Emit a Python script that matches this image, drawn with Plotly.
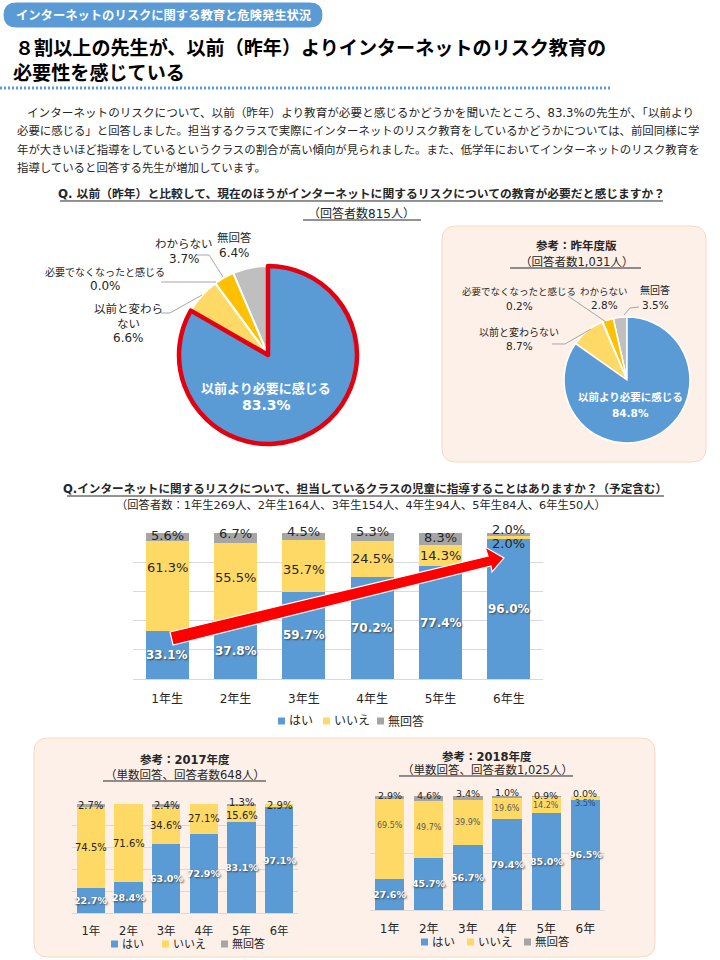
# Recreates the Internet Risk Education Survey Sheet

import plotly.graph_objects as go

FONT = "DejaVu Sans, Noto Sans CJK JP"
PAGE_W = 720
PAGE_H = 960

# Text of the Sheet
tagText = "インターネットのリスクに関する教育と危険発生状況"
headLines = ["８割以上の先生が、以前（昨年）よりインターネットのリスク教育の", "必要性を感じている"]
bodyLines = ["インターネットのリスクについて、以前（昨年）より教育が必要と感じるかどうかを聞いたところ、83.3%の先生が、「以前より",
             "必要に感じる」と回答しました。担当するクラスで実際にインターネットのリスク教育をしているかどうかについては、前回同様に学",
             "年が大きいほど指導をしているというクラスの割合が高い傾向が見られました。また、低学年においてインターネットのリスク教育を",
             "指導していると回答する先生が増加しています。"]

# Pie Datas (listed backwards, so the first slice of the picture is drawn last)
pieLabels = ["無回答", "わからない", "必要でなくなったと感じる", "以前と変わらない", "以前より必要に感じる"]
pieNow = [6.4, 3.7, 0.0, 6.6, 83.3]
pieLast = [3.5, 2.8, 0.2, 8.7, 84.8]
pieColors = ["#BFBFBF", "#FFC000", "#E7E6E6", "#FFD966", "#5B9BD5"]

# Bar Datas
seriesNames = ["はい", "いいえ", "無回答"]
seriesColors = ["#5B9BD5", "#FFD966", "#A5A5A5"]
gradeLong = ["1年生", "2年生", "3年生", "4年生", "5年生", "6年生"]
gradeShort = ["1年", "2年", "3年", "4年", "5年", "6年"]
yesNow = [33.1, 37.8, 59.7, 70.2, 77.4, 96.0]
noNow = [61.3, 55.5, 35.7, 24.5, 14.3, 2.0]
naNow = [5.6, 6.7, 4.5, 5.3, 8.3, 2.0]
yes2017 = [22.7, 28.4, 63.0, 72.9, 83.1, 97.1]
no2017 = [74.5, 71.6, 34.6, 27.1, 15.6, 2.9]
na2017 = [2.7, None, 2.4, None, 1.3, None]
yes2018 = [27.6, 45.7, 56.7, 79.4, 85.0, 96.5]
no2018 = [69.5, 49.7, 39.9, 19.6, 14.2, 3.5]
na2018 = [2.9, 4.6, 3.4, 1.0, 0.9, 0.0]


# Main Function
def main():
    fig = go.Figure()
    fig.update_layout(width=PAGE_W, height=PAGE_H, margin=dict(l=0, r=0, t=0, b=0), paper_bgcolor="white",
                      plot_bgcolor="rgba(0,0,0,0)", barmode="stack", showlegend=False, font=dict(family=FONT, color="#262626"))

    # Creates Heading and Paragraph
    addPanel(fig, 4, 3, 322, 27, 12, "#5B9BD5", "#5B9BD5")
    addText(fig, tagText, 163, 15, 12.3, "white", True)
    addText(fig, headLines[0], 13, 48, 19.1, "black", True, "left")
    addText(fig, headLines[1], 11, 73, 19.1, "black", True, "left")
    addLine(fig, [(0, 88), (612, 88)], "#5B9BD5", 3, "2px,2px")
    addText(fig, bodyLines[0], 25, 113, 11.6, "#262626", False, "left")
    addText(fig, bodyLines[1], 15, 131, 11.4, "#262626", False, "left")
    addText(fig, bodyLines[2], 15, 150, 11.4, "#262626", False, "left")
    addText(fig, bodyLines[3], 15, 168, 11.4, "#262626", False, "left")

    # Creates Pie of this year
    addText(fig, "Q. 以前（昨年）と比較して、現在のほうがインターネットに関するリスクについての教育が必要だと感じますか？", 361, 194, 11.8, "#262626", True)
    addLine(fig, [(60, 201), (663, 201)], "#262626", 1)
    addText(fig, "（回答者数815人）", 361, 213, 12, "#262626")
    addLine(fig, [(303, 220), (421, 220)], "#262626", 1)
    addPie(fig, pieNow, 268, 355, 89, ["white", "white", "white", "white", "#E3000F"], [2, 2, 2, 2, 4.5])
    addText(fig, "以前より必要に感じる", 266, 388, 13, "white", True)
    addText(fig, "83.3%", 266, 405, 14, "white", True)
    addText(fig, "無回答", 234, 238, 11.5)
    addText(fig, "6.4%", 234, 253, 12)
    addText(fig, "わからない", 184, 244, 11.5)
    addText(fig, "3.7%", 184, 259, 12)
    addText(fig, "必要でなくなったと感じる", 105, 272, 10)
    addText(fig, "0.0%", 105, 286, 12)
    addText(fig, "以前と変わら", 128, 309, 11.5)
    addText(fig, "ない", 128, 324, 11.5)
    addText(fig, "6.6%", 128, 338, 12)
    addLine(fig, [(196, 255), (209, 255), (223, 277)], "#A6A6A6", 1)
    addLine(fig, [(161, 282), (216, 282)], "#A6A6A6", 1)
    addLine(fig, [(161, 313), (170, 313), (202, 295)], "#A6A6A6", 1)

    # Creates Pie of last year
    addPanel(fig, 442, 226, 706, 462, 14, "#FDF0E8", "#F8D9C0")
    addText(fig, "参考：昨年度版", 576, 246, 11.5, "#262626", True)
    addText(fig, "（回答者数1,031人）", 576, 262, 11.5)
    addLine(fig, [(510, 268), (641, 268)], "#262626", 1)
    addPie(fig, pieLast, 627, 380, 63, ["white"] * 5, [1.5] * 5)
    addText(fig, "以前より必要に感じる", 630, 397, 10.5, "white", True)
    addText(fig, "84.8%", 630, 413, 10.5, "white", True)
    addText(fig, "必要でなくなったと感じる", 519, 291, 9.5)
    addText(fig, "0.2%", 519, 306, 10.5)
    addText(fig, "わからない", 604, 291, 9.5)
    addText(fig, "2.8%", 604, 305, 10.5)
    addText(fig, "無回答", 655, 290, 10)
    addText(fig, "3.5%", 655, 305, 10.5)
    addText(fig, "以前と変わらない", 519, 332, 10)
    addText(fig, "8.7%", 519, 346, 10.5)
    addLine(fig, [(568, 296), (606, 322)], "#A6A6A6", 1)
    addLine(fig, [(624, 315), (630, 308), (639, 307)], "#A6A6A6", 1)
    addLine(fig, [(552, 344), (565, 344), (591, 329)], "#A6A6A6", 1)

    # Creates Bar Chart of this year
    addText(fig, "Q.インターネットに関するリスクについて、担当しているクラスの児童に指導することはありますか？（予定含む）", 365, 489, 11.6, "#262626", True)
    addLine(fig, [(67, 496), (664, 496)], "#262626", 1)
    addText(fig, "（回答者数：1年生269人、2年生164人、3年生154人、4年生94人、5年生84人、6年生50人）", 361, 505, 11.3)
    shiftNow = {(1, 0): 18, (1, 1): 6, (1, 2): -4, (1, 5): -6, (2, 0): 2, (2, 1): 4, (2, 2): 5, (2, 3): 5, (2, 4): 2, (2, 5): 5}
    addBars(fig, "", gradeLong, [yesNow, noNow, naNow], (133, 543, 533, 679), 20, 0.63, shiftNow,
            dict(sizes=(12, 13, 13), standoff=9, tick=12))
    addKey(fig, [278, 323, 377], 721, 12)

    # Creates Red Arrow
    fig.add_shape(type="path", xref="paper", yref="paper", layer="above", fillcolor="#FF0000", line=dict(color="white", width=1.2),
                  path=toPath([(170, 632), (488, 556), (485, 547), (504, 558), (492, 572), (491, 566), (173, 645)]))

    # Creates Bar Chart of 2017
    addPanel(fig, 34, 738, 655, 957, 14, "#FDF0E8", "#F8D9C0")
    addText(fig, "参考：2017年度", 185, 760, 11.5, "#262626", True)
    addText(fig, "（単数回答、回答者数648人）", 185, 775, 11.5)
    addLine(fig, [(103, 781), (266, 781)], "#262626", 1)
    shift2017 = {(2, 4): 2, (1, 4): -2}
    addBars(fig, "2", gradeShort, [yes2017, no2017, na2017], (72, 298, 804, 913), 20, 0.75, shift2017,
            dict(sizes=(9.5, 10, 10), standoff=7, tick=11.5))
    addKey(fig, [111, 162, 221], 944, 11)

    # Creates Bar Chart of 2018
    addText(fig, "参考：2018年度", 487, 757, 11.5, "#262626", True)
    addText(fig, "（単数回答、回答者数1,025人）", 487, 770, 11.5)
    addLine(fig, [(399, 776), (573, 776)], "#262626", 1)
    shift2018 = {(1, 0): 13, (1, 1): 2, (2, 0): 2, (2, 1): 3, (2, 2): 4, (2, 3): 4, (2, 4): 1, (2, 5): 3, (1, 5): -5}
    addBars(fig, "3", gradeShort, [yes2018, no2018, na2018], (370, 605, 796, 910), 50, 0.75, shift2018,
            dict(sizes=(9.5, 8, 9.5), standoff=8, tick=12))
    addKey(fig, [421, 467, 524], 942, 11.5)

    fig.write_html("out.html", config=dict(displayModeBar=False), post_script="document.body.style.margin='0';")


# Paper Position of a Page Pixel
def toPaper(x, y):
    return x / PAGE_W, 1 - y / PAGE_H


def toPath(points):
    coords = [toPaper(x, y) for x, y in points]
    return "M" + " L".join(f"{x:.5f},{y:.5f}" for x, y in coords) + " Z"


def addText(fig, text, x, y, size, color="#262626", bold=False, anchor="center"):
    px, py = toPaper(x, y)
    fig.add_annotation(text=f"<b>{text}</b>" if bold else text, x=px, y=py, xref="paper", yref="paper", showarrow=False,
                       xanchor=anchor, yanchor="middle", font=dict(size=size, color=color, family=FONT))


def addLine(fig, points, color, width, dash="solid"):
    coords = [toPaper(x, y) for x, y in points]
    path = "M" + " L".join(f"{x:.5f},{y:.5f}" for x, y in coords)
    fig.add_shape(type="path", path=path, xref="paper", yref="paper", line=dict(color=color, width=width, dash=dash))


# Rounded Box behind a Part of the Sheet
def addPanel(fig, x0, y0, x1, y1, radius, fill, edge):
    rx = radius / PAGE_W
    ry = radius / PAGE_H
    left, top = toPaper(x0, y0)
    right, bottom = toPaper(x1, y1)
    path = (f"M{left + rx:.5f},{top:.5f} L{right - rx:.5f},{top:.5f} Q{right:.5f},{top:.5f} {right:.5f},{top - ry:.5f} "
            f"L{right:.5f},{bottom + ry:.5f} Q{right:.5f},{bottom:.5f} {right - rx:.5f},{bottom:.5f} "
            f"L{left + rx:.5f},{bottom:.5f} Q{left:.5f},{bottom:.5f} {left:.5f},{bottom + ry:.5f} "
            f"L{left:.5f},{top - ry:.5f} Q{left:.5f},{top:.5f} {left + rx:.5f},{top:.5f} Z")
    fig.add_shape(type="path", path=path, xref="paper", yref="paper", layer="below", fillcolor=fill, line=dict(color=edge, width=1))


def addPie(fig, values, cx, cy, radius, lineColors, lineWidths):
    left, top = toPaper(cx - radius, cy - radius)
    right, bottom = toPaper(cx + radius, cy + radius)
    # Counterclockwise pies start one slice past the rotation, so it is taken back
    fig.add_trace(go.Pie(labels=pieLabels, values=values, sort=False, direction="counterclockwise", rotation=-values[0] * 3.6,
                         textinfo="none", hoverinfo="label+percent", showlegend=False, domain=dict(x=[left, right], y=[bottom, top]),
                         marker=dict(colors=pieColors, line=dict(color=lineColors, width=lineWidths))))


# Small Squares and Names under a Bar Chart
def addKey(fig, xs, y, size):
    for x, name, color in zip(xs, seriesNames, seriesColors):
        x0, y0 = toPaper(x, y - 3.5)
        x1, y1 = toPaper(x + 7, y + 3.5)
        fig.add_shape(type="rect", x0=x0, y0=y0, x1=x1, y1=y1, xref="paper", yref="paper", fillcolor=color, line=dict(width=0))
        addText(fig, name, x + 9, y, size, "#262626", False, "left")


# Stacked Bars with their Labels
def addBars(fig, axisId, cats, series, box, gridStep, barWidth, shifts, style):
    xName = "xaxis" + axisId
    yName = "yaxis" + axisId
    left, top = toPaper(box[0], box[2])
    right, bottom = toPaper(box[1], box[3])
    for s, values in enumerate(series):
        fig.add_trace(go.Bar(x=cats, y=values, name=seriesNames[s], width=barWidth, marker=dict(color=seriesColors[s], line=dict(width=0)),
                             xaxis="x" + axisId, yaxis="y" + axisId, hoverinfo="name+y"))
    fig.update_layout({
        xName: dict(domain=[left, right], anchor="y" + axisId, showgrid=False, showline=True, linecolor="#D9D9D9", linewidth=1, ticks="",
                    ticklabelstandoff=style["standoff"], tickfont=dict(size=style["tick"], family=FONT, color="#262626")),
        yName: dict(domain=[bottom, top], anchor="x" + axisId, range=[0, 100], dtick=gridStep, showgrid=True, gridcolor="#D9D9D9",
                    zeroline=False, showticklabels=False, ticks="", layer="below traces"),
    })
    # Labels go at the middle of each block, moved a little where blocks are thin
    for i, cat in enumerate(cats):
        base = 0
        for s, values in enumerate(series):
            if values[i] is None:
                continue
            color = "white" if s == 0 else "#262626"
            shadow = "1px 1px 2px #404040" if s == 0 else "none"
            if s == 1 and style["sizes"][1] < 10:
                color = "#595959"
            if (s, i) == (1, 5) and axisId == "3":
                color = "#1F4E79"
            label = f"{values[i]:.1f}%"
            fig.add_annotation(text=f"<b>{label}</b>" if s == 0 else label, x=cat, y=base + values[i] / 2, xref="x" + axisId, yref="y" + axisId,
                               showarrow=False, yshift=shifts.get((s, i), 0), font=dict(size=style["sizes"][s], color=color, family=FONT, shadow=shadow))
            base += values[i]


if __name__ == "__main__":
    main()
